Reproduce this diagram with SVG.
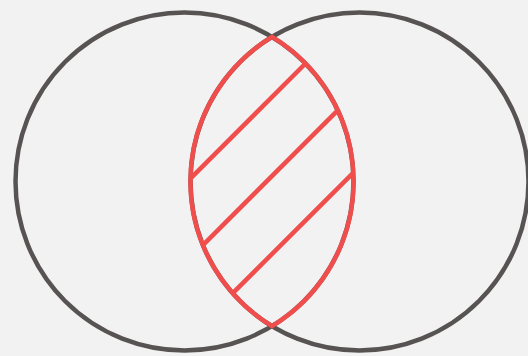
<svg xmlns="http://www.w3.org/2000/svg" width="528" height="356" viewBox="0 0 528 356">
  <style>
    .ring { fill: none; stroke: #575352; stroke-width: 4.5; }
    .lens { fill: none; stroke: #f04e4c; stroke-width: 4.5; stroke-linejoin: miter; stroke-miterlimit: 10; }
    .hatch { stroke: #f04e4c; stroke-width: 4.5; stroke-linecap: butt; }
  </style>
  <rect width="528" height="356" fill="#f2f2f2"/>
  <g id="circle-left">
    <circle class="ring" cx="184.5" cy="181.5" r="169"/>
  </g>
  <g id="circle-right">
    <circle class="ring" cx="359.5" cy="181.5" r="169"/>
  </g>
  <g id="intersection">
    <path class="lens" d="M272 36.9 A169 169 0 0 0 272 326.1 A169 169 0 0 0 272 36.9 Z"/>
    <line class="hatch" x1="190.6" y1="178.4" x2="305.5" y2="63.5"/>
    <line class="hatch" x1="202.9" y1="245.1" x2="337.7" y2="110.3"/>
    <line class="hatch" x1="232.8" y1="293.2" x2="353.2" y2="172.8"/>
  </g>
</svg>
